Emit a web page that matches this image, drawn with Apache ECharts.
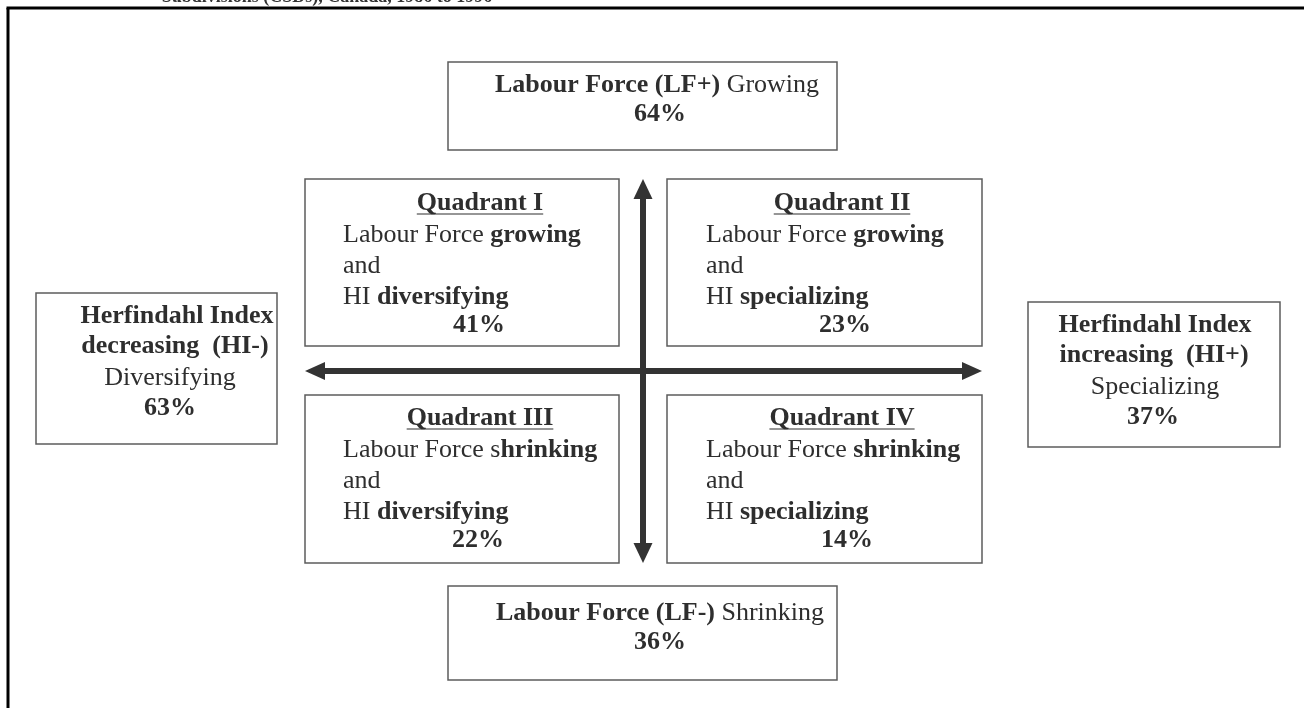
<!DOCTYPE html>
<html><head><meta charset="utf-8">
<script src="https://cdn.jsdelivr.net/npm/echarts@6/dist/echarts.min.js"></script>
<style>html,body{margin:0;padding:0;background:#fff}#c{width:1304px;height:708px}</style>
</head><body><div id="c"></div>
<script>
// ---- data ----
const titleText = 'Subdivisions (CSDs), Canada, 1986 to 1996';
const quadrantNames = ['Quadrant I', 'Quadrant II', 'Quadrant III', 'Quadrant IV'];
const quadrantLabourNormal = ['Labour Force ', 'Labour Force ', 'Labour Force s', 'Labour Force '];
const quadrantLabourBold = ['growing', 'growing', 'hrinking', 'shrinking'];
const quadrantHIBold = ['diversifying', 'specializing', 'diversifying', 'specializing'];
const quadrantShares = [41, 23, 22, 14];
const labourBold = ['Labour Force (LF+)', 'Labour Force (LF-)'];
const labourNormal = ['Growing', 'Shrinking'];
const labourShares = [64, 36];
const hiTitle = ['Herfindahl Index', 'Herfindahl Index'];
const hiDirection = ['decreasing  (HI-)', 'increasing  (HI+)'];
const hiNormal = ['Diversifying', 'Specializing'];
const hiShares = [63, 37];

// ---- layout (positions only) ----
const FONT = '"Liberation Serif", "Times New Roman", serif';
const FS = 26;
const TXT = '#2e2e2e';
const BORDER = '#5c5c5c';
const quadBoxes = [[305,179,619,346],[667,179,982,346],[305,395,619,563],[667,395,982,563]];
const quadTextX = [343, 706, 343, 706];
const quadTitleX = [480, 842, 480, 842];
const quadPctX = [479, 845, 478, 847];
const quadLineY = [[203,235,266,297,325],[203,235,266,297,325],[418,450,481,512,540],[418,450,481,512,540]];
const labourBoxes = [[448,62,837,150],[448,586,837,680]];
const labourLineY = [[85,114],[613,642]];
const labourLineX = [657, 660];
const hiBoxes = [[36,293,277,444],[1028,302,1280,447]];
const hiLineY = [[316,346,378,408],[325,355,387,417]];
const hiLineX = [[177,175,170,170],[1155,1154,1155,1153]];

const measure = (() => {
  const ctx = document.createElement('canvas').getContext('2d');
  return (t, weight) => { ctx.font = weight + ' ' + FS + 'px ' + FONT; return ctx.measureText(t).width; };
})();

const rich = {
  b: { fontFamily: FONT, fontSize: FS, fontWeight: 'bold', fill: TXT },
  n: { fontFamily: FONT, fontSize: FS, fontWeight: 'normal', fill: TXT }
};

// build diagram items
const items = [];
quadrantNames.forEach((name, i) => {
  const ly = quadLineY[i];
  items.push({
    box: quadBoxes[i],
    texts: [
      { t: '{b|' + name + '}', x: quadTitleX[i], y: ly[0], align: 'center', underline: measure(name, 'bold') },
      { t: '{n|' + quadrantLabourNormal[i] + '}{b|' + quadrantLabourBold[i] + '}', x: quadTextX[i], y: ly[1], align: 'left' },
      { t: '{n|and}', x: quadTextX[i], y: ly[2], align: 'left' },
      { t: '{n|HI }{b|' + quadrantHIBold[i] + '}', x: quadTextX[i], y: ly[3], align: 'left' },
      { t: '{b|' + quadrantShares[i] + '%}', x: quadPctX[i], y: ly[4], align: 'center' }
    ]
  });
});
labourBold.forEach((lb, i) => {
  items.push({
    box: labourBoxes[i],
    texts: [
      { t: '{b|' + lb + '}{n| ' + labourNormal[i] + '}', x: labourLineX[i], y: labourLineY[i][0], align: 'center' },
      { t: '{b|' + labourShares[i] + '%}', x: 660, y: labourLineY[i][1], align: 'center' }
    ]
  });
});
hiTitle.forEach((ht, i) => {
  const ly = hiLineY[i], lx = hiLineX[i];
  items.push({
    box: hiBoxes[i],
    texts: [
      { t: '{b|' + ht + '}', x: lx[0], y: ly[0], align: 'center' },
      { t: '{b|' + hiDirection[i] + '}', x: lx[1], y: ly[1], align: 'center' },
      { t: '{n|' + hiNormal[i] + '}', x: lx[2], y: ly[2], align: 'center' },
      { t: '{b|' + hiShares[i] + '%}', x: lx[3], y: ly[3], align: 'center' }
    ]
  });
});

const chart = echarts.init(document.getElementById('c'), null, { renderer: 'canvas' });

function renderBox(params, api) {
  const it = items[params.dataIndex];
  const p0 = api.coord([it.box[0], it.box[1]]);
  const p1 = api.coord([it.box[2], it.box[3]]);
  const children = [{
    type: 'rect',
    shape: { x: p0[0], y: p0[1], width: p1[0] - p0[0], height: p1[1] - p0[1] },
    style: { fill: '#fff', stroke: BORDER, lineWidth: 1.5 }
  }];
  it.texts.forEach(tx => {
    const p = api.coord([tx.x, tx.y]);
    children.push({
      type: 'text', x: p[0], y: p[1],
      style: { text: tx.t, rich: rich, align: tx.align, verticalAlign: 'middle' }
    });
    if (tx.underline) {
      const w = tx.underline;
      children.push({
        type: 'line',
        shape: { x1: p[0] - w / 2, y1: p[1] + 11, x2: p[0] + w / 2, y2: p[1] + 11 },
        style: { stroke: TXT, lineWidth: 1.2 }
      });
    }
  });
  return { type: 'group', children: children };
}

// arrows + frame
const hArrow = [305, 982, 371];
const vArrow = [643, 179, 563];
function renderArrows(params, api) {
  const c = '#333';
  const L = api.coord([hArrow[0], hArrow[2]]), R = api.coord([hArrow[1], hArrow[2]]);
  const T = api.coord([vArrow[0], vArrow[1]]), B = api.coord([vArrow[0], vArrow[2]]);
  const hl = 20, hw = 9, sw = 6;
  const fTL = api.coord([8, 8]), fTR = api.coord([1304, 8]), fBL = api.coord([8, 708]);
  const tt = api.coord([327, -3]);
  return {
    type: 'group', children: [
      { type: 'line', shape: { x1: fTL[0] - 1.5, y1: fTL[1], x2: fTR[0], y2: fTR[1] }, style: { stroke: '#000', lineWidth: 3 } },
      { type: 'line', shape: { x1: fTL[0], y1: fTL[1], x2: fBL[0], y2: fBL[1] }, style: { stroke: '#000', lineWidth: 3 } },
      { type: 'text', x: tt[0], y: tt[1], style: { text: titleText, font: 'bold 18px ' + FONT, fill: '#333', align: 'center', verticalAlign: 'middle' } },
      { type: 'rect', shape: { x: L[0] + hl - 1, y: L[1] - sw / 2, width: R[0] - L[0] - 2 * hl + 2, height: sw }, style: { fill: c } },
      { type: 'polygon', shape: { points: [[L[0], L[1]], [L[0] + hl, L[1] - hw], [L[0] + hl, L[1] + hw]] }, style: { fill: c } },
      { type: 'polygon', shape: { points: [[R[0], R[1]], [R[0] - hl, R[1] - hw], [R[0] - hl, R[1] + hw]] }, style: { fill: c } },
      { type: 'rect', shape: { x: T[0] - sw / 2, y: T[1] + hl - 1, width: sw, height: B[1] - T[1] - 2 * hl + 2 }, style: { fill: c } },
      { type: 'polygon', shape: { points: [[T[0], T[1]], [T[0] - hw - 0.5, T[1] + hl], [T[0] + hw + 0.5, T[1] + hl]] }, style: { fill: c } },
      { type: 'polygon', shape: { points: [[B[0], B[1]], [B[0] - hw - 0.5, B[1] - hl], [B[0] + hw + 0.5, B[1] - hl]] }, style: { fill: c } }
    ]
  };
}

chart.setOption({
  animation: false,
  backgroundColor: '#fff',
  grid: { left: 0, right: 0, top: 0, bottom: 0 },
  xAxis: { type: 'value', min: 0, max: 1304, show: false },
  yAxis: { type: 'value', min: 0, max: 708, inverse: true, show: false },
  series: [
    { type: 'custom', clip: false, silent: true, renderItem: renderArrows, data: [[0, 0]] },
    { type: 'custom', clip: false, silent: true, renderItem: renderBox, data: items.map((it, i) => [it.box[0], it.box[1]]) }
  ]
});
</script>
</body></html>
